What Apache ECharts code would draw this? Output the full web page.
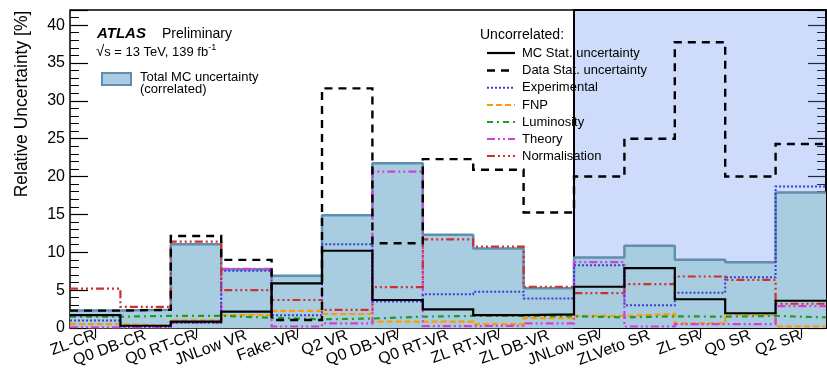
<!DOCTYPE html>
<html>
<head>
<meta charset="utf-8">
<script src="https://cdn.jsdelivr.net/npm/echarts@6/dist/echarts.min.js"></script>
<style>
  html, body { margin: 0; padding: 0; background: #fff; }
  #chart { width: 827px; height: 372px; }
</style>
</head>
<body>
<div id="chart"></div>
<script>
// Analysis regions (bins)
const regions = ['ZL-CR', 'Q0 DB-CR', 'Q0 RT-CR', 'JNLow VR', 'Fake-VR', 'Q2 VR', 'Q0 DB-VR',
  'Q0 RT-VR', 'ZL RT-VR', 'ZL DB-VR', 'JNLow SR', 'ZLVeto SR', 'ZL SR', 'Q0 SR', 'Q2 SR'];

// Relative uncertainties [%] per region
const totalMC       = [2.3, 2.4, 11.05, 7.75, 6.9, 14.9, 21.75, 12.3, 10.5, 5.25, 9.3, 10.85, 9.0, 8.7, 17.9];
const mcStat        = [1.7, 0.3, 0.85, 2.15, 5.9, 10.2, 3.7, 2.45, 1.7, 1.8, 5.45, 7.9, 3.8, 1.95, 3.6];
const dataStat      = [2.3, 2.4, 12.15, 9.0, 1.05, 31.65, 11.2, 22.3, 20.9, 15.25, 20.0, 25.0, 37.75, 20.0, 24.3];
const experimental  = [1.0, 0.2, 0.7, 7.55, 1.7, 11.05, 3.5, 4.45, 4.8, 3.9, 8.3, 3.0, 4.65, 6.7, 18.7];
const fnp           = [0.5, 0.3, 1.0, 1.7, 2.25, 1.85, 0.85, 0.85, 0.5, 1.3, 1.6, 1.85, 0.6, 1.8, 0.2];
const luminosity    = [1.5, 1.6, 1.6, 1.35, 1.15, 1.25, 1.5, 1.6, 1.6, 1.55, 1.4, 1.55, 1.5, 1.6, 1.4];
const theory        = [0.1, 0.1, 0.7, 7.8, 0.2, 0.6, 20.65, 0.25, 0.3, 0.6, 8.7, 0.2, 0.5, 0.5, 2.9];
const normalisation = [5.2, 2.8, 11.4, 5.0, 3.7, 2.4, 5.4, 11.7, 10.75, 5.45, 4.6, 5.8, 6.8, 6.35, 3.2];

// Signal regions start at this bin index
const srStart = 10;

const FONT = '"Liberation Sans", Arial, sans-serif';

// Histogram outline: each bin becomes a flat segment from its low to high edge
function steps(vals) {
  const pts = [];
  vals.forEach((v, i) => { pts.push([i, v]); pts.push([i + 1, v]); });
  return pts;
}

function histLine(name, vals, color, width, dash, z) {
  return {
    name, type: 'line', xAxisIndex: 2, yAxisIndex: 0,
    data: steps(vals), showSymbol: false, symbol: 'none', silent: true,
    animation: false, z: z,
    lineStyle: { color, width, type: dash || 'solid', cap: 'butt', join: 'miter' }
  };
}

const fillColor = '#a9cde0';
const fillEdge = '#5f8eaf';

const styles = {
  mcStat:   { color: '#000000', width: 2.2, dash: 'solid' },
  dataStat: { color: '#000000', width: 2.4, dash: [8, 6] },
  exper:    { color: '#3b3bdb', width: 2,   dash: [2, 2] },
  fnp:      { color: '#ff9a00', width: 2.2, dash: [6, 3] },
  lumi:     { color: '#1f9e1f', width: 2.2, dash: [6, 4, 2, 4] },
  theory:   { color: '#d63fd6', width: 2.2, dash: [8, 3, 2, 3, 2, 3] },
  norm:     { color: '#cc3030', width: 2.2, dash: [8, 3, 2, 3, 2, 3, 2, 3] }
};

const chart = echarts.init(document.getElementById('chart'), null, { renderer: 'canvas' });

const grid = { left: 70, right: 1, top: 10, bottom: 44 };

// Legend (drawn as graphic elements)
const legX1 = 487, legX2 = 515, legTX = 522;
const legRows = [
  ['MC Stat. uncertainty', styles.mcStat, 53],
  ['Data Stat. uncertainty', styles.dataStat, 70.5],
  ['Experimental', styles.exper, 87.7],
  ['FNP', styles.fnp, 105],
  ['Luminosity', styles.lumi, 122],
  ['Theory', styles.theory, 139],
  ['Normalisation', styles.norm, 156]
];
const graphics = [];
graphics.push({ type: 'text', z: 50, style: { text: 'Uncorrelated:', x: 480, y: 35, font: '14px ' + FONT, fill: '#000', verticalAlign: 'middle' } });
legRows.forEach(([label, st, y]) => {
  graphics.push({ type: 'line', z: 50, shape: { x1: legX1, y1: y, x2: legX2, y2: y },
    style: { stroke: st.color, lineWidth: st.width, lineDash: st.dash === 'solid' ? null : st.dash } });
  graphics.push({ type: 'text', z: 50, style: { text: label, x: legTX, y: y, font: '13px ' + FONT, fill: '#000', verticalAlign: 'middle' } });
});
// ATLAS label
graphics.push({ type: 'text', z: 50, style: { text: 'ATLAS', x: 97, y: 34, font: 'italic bold 15px ' + FONT, fill: '#000', verticalAlign: 'middle' } });
graphics.push({ type: 'text', z: 50, style: { text: 'Preliminary', x: 162, y: 34, font: '14px ' + FONT, fill: '#000', verticalAlign: 'middle' } });
graphics.push({ type: 'text', z: 50, style: {
  text: '{r|√}{a|s = 13 TeV, 139 fb}{s|-1}', x: 96, y: 52, verticalAlign: 'middle',
  rich: {
    r: { font: '15px ' + FONT, fill: '#000' },
    a: { font: '13px ' + FONT, fill: '#000' },
    s: { font: '9px ' + FONT, fill: '#000', verticalAlign: 'top', padding: [0, 0, 8, 0] }
  }
} });
graphics.push({ type: 'rect', z: 50, shape: { x: 102, y: 73, width: 29, height: 12 },
  style: { fill: fillColor, stroke: fillEdge, lineWidth: 2 } });
graphics.push({ type: 'text', z: 50, style: { text: 'Total MC uncertainty', x: 140, y: 77, font: '13px ' + FONT, fill: '#000', verticalAlign: 'middle' } });
graphics.push({ type: 'text', z: 50, style: { text: '(correlated)', x: 140, y: 89, font: '13px ' + FONT, fill: '#000', verticalAlign: 'middle' } });
// y-axis title
graphics.push({ type: 'text', z: 50, x: 22, y: 104, rotation: Math.PI / 2, style: {
  text: 'Relative Uncertainty [%]', x: 0, y: 0, font: '17.5px ' + FONT, fill: '#000', align: 'center', verticalAlign: 'middle' } });

const yCommon = {
  type: 'value', min: 0, max: 42, interval: 5,
  axisLine: { show: false },
  splitLine: { show: false },
  axisTick: { show: true, inside: true, length: 18, lineStyle: { color: '#000', width: 1.2 } },
  minorTick: { show: true, splitNumber: 5, length: 9, lineStyle: { color: '#000', width: 1 } },
  minorSplitLine: { show: false }
};

const option = {
  animation: false,
  backgroundColor: '#fff',
  grid: Object.assign({ show: true, borderColor: '#000', borderWidth: 1.5, backgroundColor: 'transparent' }, grid),
  xAxis: [
    { // bottom: region labels at bin centres
      type: 'category', data: regions, position: 'bottom', boundaryGap: true,
      axisLine: { show: false },
      axisTick: { show: true, inside: true, alignWithLabel: true, length: 10, lineStyle: { color: '#000', width: 1.2 } },
      axisLabel: { rotate: 20, margin: 7, fontSize: 16, fontFamily: FONT, color: '#000', interval: 0 },
      splitLine: { show: false }
    },
    { // top: mirrored ticks
      type: 'category', data: regions, position: 'top', boundaryGap: true,
      axisLine: { show: false },
      axisTick: { show: true, inside: true, alignWithLabel: true, length: 10, lineStyle: { color: '#000', width: 1.2 } },
      axisLabel: { show: false }, splitLine: { show: false }
    },
    { // numeric bin axis used for drawing the histograms
      type: 'value', min: 0, max: 15, show: false
    }
  ],
  yAxis: [
    Object.assign({}, yCommon, {
      position: 'left',
      axisLabel: { fontSize: 16, fontFamily: FONT, color: '#000', margin: 5 }
    }),
    Object.assign({}, yCommon, { position: 'right', axisLabel: { show: false } })
  ],
  graphic: graphics,
  series: [
    {
      name: 'Total MC uncertainty', type: 'line', xAxisIndex: 2, yAxisIndex: 0,
      data: steps(totalMC), showSymbol: false, symbol: 'none', silent: true, z: 2,
      lineStyle: { color: fillEdge, width: 2.5 },
      areaStyle: { color: fillColor, opacity: 1, origin: 0 }
    },
    histLine('FNP', fnp, styles.fnp.color, styles.fnp.width, styles.fnp.dash, 3),
    histLine('Luminosity', luminosity, styles.lumi.color, styles.lumi.width, styles.lumi.dash, 3),
    histLine('Theory', theory, styles.theory.color, styles.theory.width, styles.theory.dash, 3),
    histLine('Experimental', experimental, styles.exper.color, styles.exper.width, styles.exper.dash, 4),
    histLine('Normalisation', normalisation, styles.norm.color, styles.norm.width, styles.norm.dash, 4),
    histLine('MC Stat. uncertainty', mcStat, styles.mcStat.color, styles.mcStat.width, styles.mcStat.dash, 5),
    histLine('Data Stat. uncertainty', dataStat, styles.dataStat.color, styles.dataStat.width, styles.dataStat.dash, 5),
    { // signal-region highlight
      name: 'SR', type: 'line', xAxisIndex: 2, yAxisIndex: 0, data: [], z: 20, silent: true,
      markArea: {
        silent: true,
        itemStyle: { color: 'rgba(95,135,240,0.30)', borderColor: '#000', borderWidth: 2 },
        data: [[{ xAxis: srStart, yAxis: 0 }, { xAxis: regions.length, yAxis: 42 }]]
      }
    }
  ]
};

chart.setOption(option);
</script>
</body>
</html>
